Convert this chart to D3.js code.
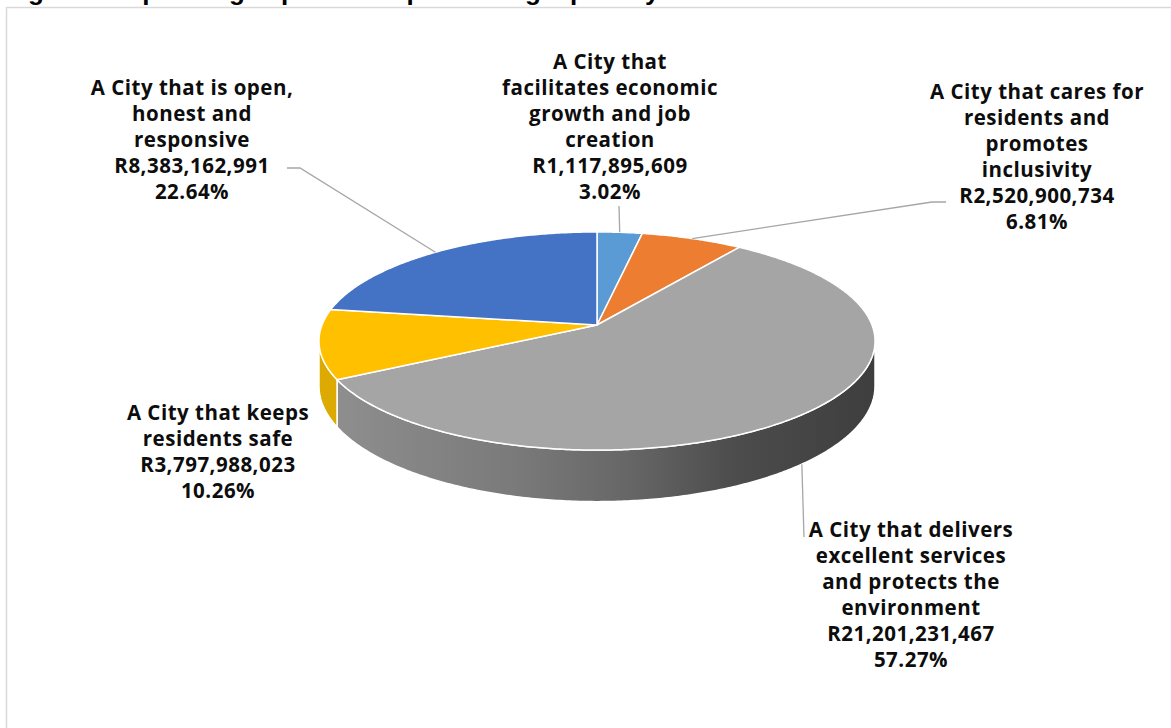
<!DOCTYPE html>
<html>
<head>
<meta charset="utf-8">
<script src="https://cdn.jsdelivr.net/npm/d3@7"></script>
<style>
  html, body { margin: 0; padding: 0; background: #ffffff; overflow: hidden; }
  svg { display: block; }
</style>
</head>
<body>
<svg id="chart" width="1171" height="728"></svg>
<script>
// Operating expenditure per strategic priority (Rand)
const categories = [
  ["A City that", "facilitates economic", "growth and job", "creation"],
  ["A City that cares for", "residents and", "promotes", "inclusivity"],
  ["A City that delivers", "excellent services", "and protects the", "environment"],
  ["A City that keeps", "residents safe"],
  ["A City that is open,", "honest and", "responsive"]
];
const values = [1117895609, 2520900734, 21201231467, 3797988023, 8383162991];
const colors = ["#5b9bd5", "#ed7d31", "#a5a5a5", "#ffc000", "#4472c4"];
const titleText = "Figure 6: Operating expenditure per strategic priority";

// Label placement: centre x, centre of first line, and leader route (elbow points toward the label)
const labelLayout = [
  { x: 610,  y: 62,  leader: [[619, 206]], anchorOnBase: false },
  { x: 1037, y: 92,  leader: [[932, 202], [946, 202]], anchorOnBase: false },
  { x: 911,  y: 530, leader: [[804, 537]], anchorOnBase: true },
  { x: 218,  y: 413, leader: null, anchorOnBase: false },
  { x: 192,  y: 88,  leader: [[300, 168], [287, 168]], anchorOnBase: false }
];

const svg = d3.select("#chart");

// chart frame
svg.append("rect")
  .attr("x", 6.5).attr("y", 7.5)
  .attr("width", 1200).attr("height", 800)
  .attr("fill", "#ffffff")
  .attr("stroke", "#d9d9d9").attr("stroke-width", 1.5);

// title (sits above the frame)
svg.append("text")
  .attr("x", 5).attr("y", 0)
  .attr("font-family", "'Liberation Sans', Arial, sans-serif")
  .attr("font-weight", 700)
  .attr("font-size", 26)
  .attr("fill", "#000")
  .text(titleText);

// 3D pie geometry (perspective-tilted disk)
const geo = { cx: 597, cy: 325, B: 275, A: 106.7, K: 0.1468, depth: 44 };
function proj(a, r, base) {
  const u = r * Math.sin(a);
  const t = -r * Math.cos(a);
  const d = 1 - geo.K * t;
  return [
    geo.cx + geo.B * u / d,
    geo.cy + geo.A * t / d + (base ? geo.depth / d : 0)
  ];
}

const pie = d3.pie().sort(null).value(d => d)(values);
const color = d3.scaleOrdinal().domain(d3.range(values.length)).range(colors);
const line = d3.line();

function arcPoints(a0, a1, base) {
  const n = Math.max(2, Math.ceil((a1 - a0) / 0.01));
  return d3.range(n + 1).map(i => proj(a0 + (a1 - a0) * i / n, 1, base));
}

// visible front wall spans between the silhouette points
const sil = Math.asin(geo.K);
const visA0 = Math.PI / 2 + sil, visA1 = 3 * Math.PI / 2 - sil;

const defs = svg.append("defs");
const wallShades = {
  2: [["0%", "#909090"], ["35%", "#7a7a7a"], ["55%", "#676767"], ["75%", "#4c4c4c"], ["100%", "#3e3e3e"]],
  3: [["0%", "#dcaa00"], ["100%", "#cf9c00"]]
};
Object.entries(wallShades).forEach(([i, stops]) => {
  const g = defs.append("linearGradient")
    .attr("id", "wall" + i)
    .attr("gradientUnits", "userSpaceOnUse")
    .attr("x1", 320).attr("y1", 0).attr("x2", 875).attr("y2", 0);
  stops.forEach(s => g.append("stop").attr("offset", s[0]).attr("stop-color", s[1]));
});

const gWalls = svg.append("g");
pie.forEach((p, i) => {
  const b0 = Math.max(p.startAngle, visA0), b1 = Math.min(p.endAngle, visA1);
  if (b1 <= b0) return;
  const pts = arcPoints(b0, b1, false).concat(arcPoints(b0, b1, true).reverse());
  gWalls.append("path")
    .attr("d", line(pts) + "Z")
    .attr("fill", wallShades[i] ? `url(#wall${i})` : d3.color(color(i)).darker(0.6))
    .attr("stroke", "#ffffff").attr("stroke-width", 1.5)
    .attr("stroke-linejoin", "round");
});

const gTops = svg.append("g");
pie.forEach((p, i) => {
  const pts = [proj(0, 0, false)].concat(arcPoints(p.startAngle, p.endAngle, false));
  gTops.append("path")
    .attr("d", line(pts) + "Z")
    .attr("fill", color(i))
    .attr("stroke", "#ffffff").attr("stroke-width", 1.5)
    .attr("stroke-linejoin", "round");
});

// leader lines
const gLead = svg.append("g");
pie.forEach((p, i) => {
  const L = labelLayout[i];
  if (!L.leader) return;
  const mid = (p.startAngle + p.endAngle) / 2;
  const pts = [proj(mid, 1, L.anchorOnBase)].concat(L.leader);
  gLead.append("path")
    .attr("d", line(pts))
    .attr("fill", "none")
    .attr("stroke", "#a6a6a6").attr("stroke-width", 1.3);
});

// data labels
const money = v => "R" + d3.format(",")(v);
const pct = d3.format(".2%");
const total = d3.sum(values);
const gLab = svg.append("g")
  .attr("font-family", "'Open Sans', sans-serif")
  .attr("font-weight", 700)
  .attr("font-size", 20.5)
  .attr("letter-spacing", "0.5px")
  .attr("fill", "#0d0d0d")
  .attr("text-anchor", "middle");
pie.forEach((p, i) => {
  const L = labelLayout[i];
  const lines = categories[i].concat([money(values[i]), pct(values[i] / total)]);
  const t = gLab.append("text");
  lines.forEach((s, j) => {
    t.append("tspan")
      .attr("x", L.x)
      .attr("y", L.y + j * 26)
      .attr("dy", "0.36em")
      .text(s);
  });
});
</script>
</body>
</html>
